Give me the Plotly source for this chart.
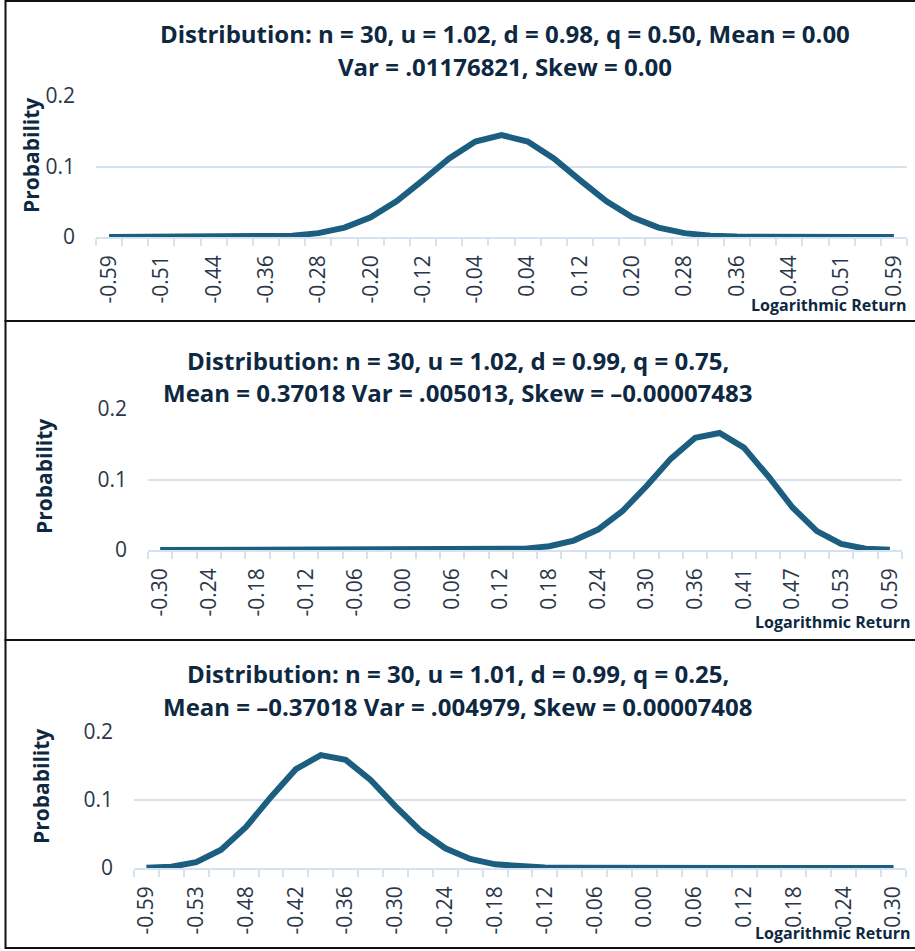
import plotly.graph_objects as go

W, H = 915, 951

# ---------------- data ----------------
labels_1 = ["-0.59", "-0.55", "-0.51", "-0.48", "-0.44", "-0.40", "-0.36", "-0.32",
            "-0.28", "-0.24", "-0.20", "-0.16", "-0.12", "-0.08", "-0.04", "0.00",
            "0.04", "0.08", "0.12", "0.16", "0.20", "0.24", "0.28", "0.32",
            "0.36", "0.40", "0.44", "0.48", "0.51", "0.55", "0.59"]
prob_1 = [0.0000, 0.0000, 0.0000, 0.0000, 0.0000, 0.0001, 0.0006, 0.0019,
          0.0055, 0.0133, 0.0280, 0.0509, 0.0806, 0.1115, 0.1354, 0.1445,
          0.1354, 0.1115, 0.0806, 0.0509, 0.0280, 0.0133, 0.0055, 0.0019,
          0.0006, 0.0001, 0.0000, 0.0000, 0.0000, 0.0000, 0.0000]

labels_2 = ["-0.30", "-0.27", "-0.24", "-0.21", "-0.18", "-0.15", "-0.12", "-0.09",
            "-0.06", "-0.03", "0.00", "0.03", "0.06", "0.09", "0.12", "0.15",
            "0.18", "0.21", "0.24", "0.27", "0.30", "0.33", "0.36", "0.38",
            "0.41", "0.44", "0.47", "0.50", "0.53", "0.56", "0.59"]
prob_2 = [0.0000, 0.0000, 0.0000, 0.0000, 0.0000, 0.0000, 0.0000, 0.0000,
          0.0000, 0.0000, 0.0000, 0.0000, 0.0000, 0.0002, 0.0006, 0.0019,
          0.0054, 0.0134, 0.0290, 0.0550, 0.0907, 0.1296, 0.1591, 0.1660,
          0.1453, 0.1046, 0.0603, 0.0268, 0.0086, 0.0018, 0.0002]

labels_3 = ["-0.59", "-0.56", "-0.53", "-0.50", "-0.48", "-0.44", "-0.42", "-0.38",
            "-0.36", "-0.33", "-0.30", "-0.27", "-0.24", "-0.21", "-0.18", "-0.15",
            "-0.12", "-0.09", "-0.06", "-0.03", "0.00", "0.03", "0.06", "0.09",
            "0.12", "0.15", "0.18", "0.21", "0.24", "0.27", "0.30"]
prob_3 = [0.0002, 0.0018, 0.0086, 0.0268, 0.0603, 0.1046, 0.1453, 0.1660,
          0.1591, 0.1296, 0.0907, 0.0550, 0.0290, 0.0134, 0.0054, 0.0019,
          0.0006, 0.0002, 0.0000, 0.0000, 0.0000, 0.0000, 0.0000, 0.0000,
          0.0000, 0.0000, 0.0000, 0.0000, 0.0000, 0.0000, 0.0000]

titles = [
    ("Distribution: n = 30, u = 1.02, d = 0.98, q = 0.50, Mean = 0.00",
     "Var = .01176821, Skew = 0.00"),
    ("Distribution: n = 30, u = 1.02, d = 0.99, q = 0.75,",
     "Mean = 0.37018 Var = .005013, Skew = \u20130.00007483"),
    ("Distribution: n = 30, u = 1.01, d = 0.99, q = 0.25,",
     "Mean = \u20130.37018 Var = .004979, Skew = 0.00007408"),
]
y_ticks = [0, 0.1, 0.2]
y_ticktext = ["0", "0.1", "0.2"]
x_title = "Logarithmic Return"
y_title = "Probability"

# ---------------- styling / layout ----------------
LINE_C = "#1b5e80"
GRID_C = "#d5e3f1"
TITLE_C = "#0e2841"
TICK_C = "#2b3748"
FONT = "Open Sans"

def fx(px):
    return px / W

def fy(py):
    return 1 - py / H

panels = [
    dict(labels=labels_1, prob=prob_1, x0=96, x1=907, yb=237, yt=96,
         tcx=505, t1y=33, t2y=66, ytx=31, yty=155, lrx=909, lry=305,
         top=1, bottom=321),
    dict(labels=labels_2, prob=prob_2, x0=148, x1=902, yb=550, yt=409,
         tcx=458, t1y=360, t2y=392, ytx=44, yty=477, lrx=913, lry=622,
         top=321, bottom=640),
    dict(labels=labels_3, prob=prob_3, x0=134, x1=906, yb=868, yt=732,
         tcx=458, t1y=673, t2y=706, ytx=41, yty=787, lrx=913, lry=933,
         top=640, bottom=948),
]

fig = go.Figure()
annotations = []
shapes = []
for i, p in enumerate(panels):
    n = i + 1
    xs = list(range(len(p["labels"])))
    xa = "x" if n == 1 else f"x{n}"
    ya = "y" if n == 1 else f"y{n}"
    fig.add_trace(go.Scatter(x=xs, y=p["prob"], mode="lines", xaxis=xa, yaxis=ya,
                             line=dict(color=LINE_C, width=6), cliponaxis=False,
                             showlegend=False, hoverinfo="skip"))
    xkey = "xaxis" if n == 1 else f"xaxis{n}"
    ykey = "yaxis" if n == 1 else f"yaxis{n}"
    fig.layout[xkey] = dict(
        domain=[fx(p["x0"]), fx(p["x1"])], anchor=ya,
        range=[-0.5, len(xs) - 0.5], tickmode="array",
        tickvals=xs[::2], ticktext=p["labels"][::2], tickangle=-90,
        ticks="", showgrid=False, zeroline=False,
        showline=True, linecolor=GRID_C, linewidth=1.5,
        minor=dict(tick0=-0.5, dtick=1, ticks="outside", ticklen=7,
                   tickcolor=GRID_C, tickwidth=1.5, showgrid=False),
        tickfont=dict(family=FONT, size=21, color=TICK_C),
        ticklabelstandoff=8, fixedrange=True, automargin=False,
    )
    fig.layout[ykey] = dict(
        domain=[fy(p["yb"]), fy(p["yt"])], anchor=xa,
        range=[0, 0.2], tickmode="array", tickvals=y_ticks, ticktext=y_ticktext,
        showgrid=True, gridcolor=GRID_C, gridwidth=1.5, zeroline=False,
        showline=False, ticks="",
        tickfont=dict(family=FONT, size=21, color=TICK_C),
        ticklabelstandoff=20, fixedrange=True, automargin=False,
    )
    # titles
    for txt, yy in ((titles[i][0], p["t1y"]), (titles[i][1], p["t2y"])):
        annotations.append(dict(text=f"<b>{txt}</b>", x=fx(p["tcx"]), y=fy(yy),
                                xref="paper", yref="paper", showarrow=False,
                                xanchor="center", yanchor="middle",
                                font=dict(family=FONT, size=24, color=TITLE_C)))
    annotations.append(dict(text=f"<b>{y_title}</b>", x=fx(p["ytx"]), y=fy(p["yty"]),
                            xref="paper", yref="paper", showarrow=False, textangle=-90,
                            xanchor="center", yanchor="middle",
                            font=dict(family=FONT, size=21, color=TITLE_C)))
    annotations.append(dict(text=f"<b>{x_title}</b>", x=fx(p["lrx"]), y=fy(p["lry"]),
                            xref="paper", yref="paper", showarrow=False,
                            xanchor="right", yanchor="middle",
                            font=dict(family=FONT, size=16, color=TITLE_C)))
    shapes.append(dict(type="rect", xref="paper", yref="paper",
                       x0=fx(5.5), x1=1.02, y0=fy(p["bottom"]), y1=fy(p["top"]),
                       line=dict(color="#111111", width=2), layer="above"))

fig.update_layout(width=W, height=H,
                  margin=dict(l=0, r=0, t=0, b=0, pad=0, autoexpand=False),
                  paper_bgcolor="white", plot_bgcolor="white",
                  annotations=annotations, shapes=shapes, showlegend=False)

fig.write_html("out.html", config={"displayModeBar": False},
               post_script="document.body.style.margin='0';document.body.style.padding='0';")
